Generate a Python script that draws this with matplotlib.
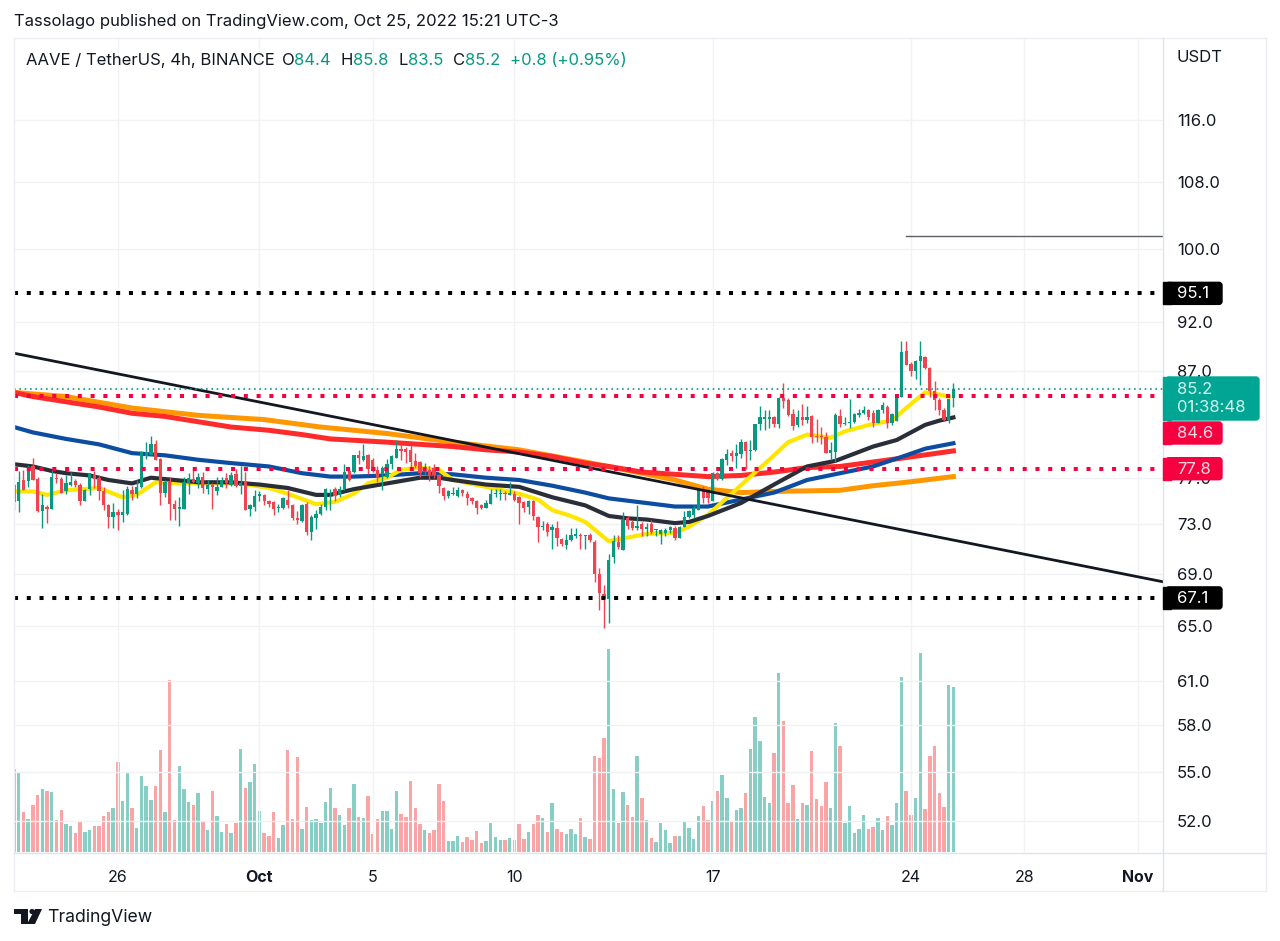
import matplotlib
matplotlib.use("Agg")
import matplotlib.pyplot as plt
from matplotlib.patches import FancyBboxPatch, Polygon, Rectangle, Circle

plt.rcParams["font.family"] = ["Inter", "DejaVu Sans"]

# ── data ──────────────────────────────────────────────────────────────────────
opens = [
    76.4,75.0,76.8,76.7,78.0,76.9,74.1,74.5,74.3,77.0, 76.9,75.8,76.4,76.7,76.4,75.0,76.0,77.2,77.0,75.8,
    74.6,73.6,74.0,73.8,73.9,75.9,75.6,76.2,78.9,79.0, 80.0,78.7,75.7,76.7,74.7,74.3,74.3,76.5,76.9,76.5,
    77.1,76.0,76.4,75.8,76.2,77.0,76.4,77.3,76.3,76.7, 74.3,74.5,75.4,75.5,75.0,74.9,74.4,74.4,75.1,74.6,
    73.5,73.3,74.7,72.4,73.5,73.9,74.5,75.3,76.0,75.5, 76.0,77.6,77.5,79.0,78.6,79.0,78.6,77.7,77.3,77.1,
    78.2,78.8,79.6,79.6,79.5,78.5,78.4,77.5,77.7,77.9, 77.2,76.1,75.4,75.6,75.4,75.9,75.6,75.2,75.0,74.6,
    74.4,74.7,75.6,75.6,75.7,75.5,75.6,75.3,74.9,74.5, 75.0,73.6,72.8,73.0,72.5,72.7,71.8,71.3,71.7,72.0,
    72.1,72.0,72.1,71.5,69.0,67.4,67.0,70.3,71.5,70.9, 73.5,73.2,72.7,73.0,72.6,73.0,72.5,72.2,72.3,72.5,
    72.7,71.9,72.8,73.6,73.8,74.2,75.9,75.9,75.0,77.4, 76.9,78.6,79.2,78.9,79.1,80.2,79.4,79.5,81.9,82.4,
    82.4,82.5,81.9,84.4,84.2,82.8,81.8,82.5,82.3,82.6, 80.8,80.8,80.7,79.2,79.3,82.6,81.9,82.0,82.1,82.7,
    82.9,83.2,82.9,82.0,83.2,83.5,82.0,82.2,84.5,89.0, 87.7,87.0,88.0,88.4,87.3,85.0,84.2,83.2,82.3,84.4,
]
highs = [
    76.5,77.6,77.7,78.1,78.8,77.1,75.6,74.6,77.7,77.4, 77.1,77.2,77.5,76.9,76.5,76.0,77.4,77.6,77.2,76.2,
    74.7,74.8,74.3,75.9,76.3,76.3,76.8,79.4,80.2,80.8, 80.4,78.8,76.8,77.1,75.1,75.3,77.1,77.4,77.7,77.4,
    77.5,76.8,76.5,77.1,77.1,77.4,77.5,77.8,78.0,77.5, 74.7,75.9,75.8,75.6,75.1,75.0,74.7,75.3,75.9,74.7,
    74.1,74.7,74.9,73.8,74.2,74.7,76.1,76.0,76.2,76.3, 78.2,77.9,79.0,79.5,80.0,79.1,78.8,78.0,78.0,78.7,
    79.0,80.4,80.0,79.8,79.9,79.2,78.5,78.3,78.0,78.2, 77.3,76.2,75.9,76.2,76.2,76.0,75.8,75.3,75.1,74.7,
    75.1,76.0,76.0,76.0,75.8,76.6,75.8,75.4,75.0,75.1, 75.1,73.7,73.3,73.2,73.0,73.3,71.9,72.2,72.7,72.7,
    72.3,72.1,72.3,71.7,69.4,68.1,70.6,72.1,72.1,74.0, 73.7,73.4,74.6,73.2,73.1,73.4,72.6,72.6,72.7,72.9,
    72.9,72.9,74.1,74.2,74.6,75.9,76.3,76.0,77.5,77.5, 78.8,79.6,79.5,80.0,80.5,80.3,80.4,81.9,83.6,83.2,
    83.2,82.6,84.5,85.8,84.4,83.3,83.2,83.8,83.6,82.7, 82.4,81.6,81.1,80.2,82.9,83.3,82.5,84.3,82.9,83.3,
    83.6,83.3,83.2,83.3,84.0,83.7,82.9,84.7,90.0,90.0, 87.9,88.1,90.0,88.5,87.4,86.0,84.4,83.4,84.3,85.8,
]
lows = [
    74.2,74.0,75.9,76.2,76.8,74.0,72.7,73.1,74.3,76.5, 75.7,75.6,76.3,76.2,74.6,75.0,75.5,76.1,75.1,74.2,
    72.7,72.7,72.5,73.2,73.8,75.1,75.2,76.1,78.7,79.0, 78.6,74.6,75.3,73.4,73.4,72.9,74.3,75.6,76.5,76.1,
    75.7,75.6,74.3,75.5,76.2,76.1,76.3,76.2,75.6,74.2, 73.7,74.1,75.0,74.6,74.5,73.8,74.0,74.3,74.4,73.4,
    73.0,73.2,72.1,71.7,72.6,73.8,74.2,74.2,75.0,75.3, 75.9,76.7,77.4,78.2,78.5,77.3,77.5,76.6,75.9,77.0,
    77.8,78.8,78.6,78.3,77.9,77.9,77.1,77.2,76.7,77.0, 75.7,75.1,75.2,75.5,75.3,75.4,74.6,74.7,73.9,74.3,
    74.4,74.7,75.3,75.1,75.1,75.5,75.0,73.0,74.0,73.9, 73.4,71.5,72.5,72.0,71.0,71.2,71.2,71.0,71.6,71.9,
    71.0,71.0,71.5,68.3,66.2,64.8,65.2,69.8,71.0,70.9, 72.6,72.5,72.5,72.0,72.0,72.2,72.0,71.4,72.0,72.3,
    71.7,71.9,72.8,73.5,73.5,74.2,74.8,74.8,75.0,76.8, 76.8,78.1,78.5,77.9,78.8,77.8,78.6,79.4,81.3,81.3,
    81.5,81.6,81.5,83.4,82.6,81.3,81.6,81.8,82.0,80.1, 80.2,80.0,79.2,78.6,78.4,81.6,81.8,81.5,82.0,82.5,
    82.8,82.3,81.6,82.0,82.9,81.5,81.8,82.2,84.5,87.6, 86.5,86.2,85.6,87.2,84.5,83.2,82.7,82.2,82.0,83.5,
]
closes = [
    74.9,76.6,75.9,77.8,76.8,74.1,74.6,74.3,77.1,76.9, 75.7,76.5,76.6,76.4,75.0,75.9,77.4,76.9,75.8,74.6,
    73.6,74.0,73.8,74.0,76.0,75.6,76.2,79.3,79.3,80.0, 78.6,75.7,76.6,74.7,74.3,74.5,76.6,77.0,76.6,77.1,
    76.1,76.4,76.2,76.2,76.8,76.5,77.2,76.3,76.5,74.2, 74.6,75.4,75.6,75.0,74.7,74.3,74.5,75.2,74.6,73.5,
    73.4,74.6,72.4,73.6,73.9,74.5,76.0,75.4,75.4,76.0, 77.5,76.8,79.0,78.8,78.9,77.8,77.6,77.0,77.9,78.2,
    78.9,79.6,79.4,79.3,78.4,78.0,77.4,77.8,77.2,77.2, 76.3,75.4,75.8,75.7,75.9,75.7,75.2,75.0,74.4,74.4,
    74.8,75.6,75.7,75.7,75.6,75.7,75.1,74.8,74.4,75.0, 73.7,72.8,72.9,72.4,72.8,71.9,71.4,71.7,72.1,72.2,
    72.0,72.1,71.7,69.0,67.5,67.0,70.1,71.6,71.1,73.4, 72.9,72.7,72.9,72.6,72.8,72.4,72.6,72.5,72.5,72.8,
    71.9,72.8,73.6,74.1,74.4,75.9,75.2,75.2,77.4,76.9, 78.7,79.1,78.9,79.2,80.2,79.4,79.5,81.9,82.5,82.5,
    82.5,81.9,84.4,84.1,82.7,81.7,82.5,82.3,82.5,80.7, 80.7,80.7,79.2,79.5,82.7,81.9,82.0,82.1,82.8,82.9,
    83.2,82.5,82.0,83.2,83.7,82.0,82.8,84.7,88.9,87.6, 87.0,88.0,88.5,87.3,85.0,84.2,83.2,82.3,84.3,85.2,
]
# volume has no scale on the chart, these are relative bar heights
volumes = [
    83,80,40,33,47,57,63,61,60,32, 42,28,26,19,30,20,22,26,26,36,
    40,44,90,51,80,44,24,76,66,52, 66,102,40,172,32,86,63,50,47,59,
    30,22,61,36,20,28,19,29,103,64, 70,88,41,19,16,40,14,27,102,33,
    95,23,45,32,33,29,50,64,44,37, 27,44,68,35,34,56,18,33,41,41,
    23,61,38,35,71,44,28,22,19,22, 68,51,11,11,16,10,15,12,21,9,
    11,29,15,12,12,14,12,28,13,20, 28,37,34,20,49,23,20,18,23,18,
    34,15,13,96,94,114,203,63,29,60, 47,35,96,54,32,14,10,29,22,9,
    16,16,30,24,13,36,46,32,51,61, 77,54,30,42,44,59,103,135,111,55,
    49,99,179,131,49,67,33,49,47,101, 53,46,70,44,129,106,29,46,19,23,
    37,23,25,34,22,36,27,49,175,61, 37,54,199,43,96,106,59,45,167,165,
]

orange_idx = [0,11,25,39,53,65,79,93,107,121,133,140,147,154,161,175,182,189,199]
orange_val = [84.9,84.5,83.4,82.7,82.3,81.6,81.0,80.2,79.5,78.4,77.4,76.8,76.0,75.7,75.8,75.9,76.3,76.6,77.1]

red_idx = [0,4,11,18,25,32,39,46,54,61,67,79,93,100,107,114,121,126,133,140,147,154,161,168,175,182,189,199]
red_val = [84.9,84.5,84.0,83.5,82.9,82.6,82.1,81.6,81.3,80.9,80.5,80.2,79.8,79.5,79.3,78.9,78.3,78.0,77.5,77.3,77.1,77.2,77.5,77.9,78.0,78.4,78.8,79.4]

blue_idx = [0,4,11,18,25,32,39,46,54,61,67,72,79,86,93,100,107,114,121,126,134,140,147,154,161,168,175,182,189,193,199]
blue_val = [81.6,81.1,80.5,80.0,79.2,79.0,78.6,78.3,78.0,77.4,77.1,77.1,77.2,77.4,77.3,77.0,76.8,76.3,75.7,75.2,74.8,74.5,74.5,75.1,75.7,76.8,77.4,78.0,79.0,79.6,80.1]

dark_idx = [0,4,8,11,16,20,25,29,34,39,46,52,58,64,67,72,79,86,90,93,100,107,114,121,126,130,134,140,143,147,154,161,168,174,182,187,193,196,199]
dark_val = [78.2,78.0,77.6,77.4,77.2,76.8,76.5,77.0,76.8,76.6,76.6,76.4,76.1,75.5,75.5,76.0,76.5,77.0,77.0,76.8,76.4,76.2,75.3,74.6,73.7,73.5,73.4,73.1,73.2,73.7,74.8,76.4,78.0,78.5,79.8,80.4,81.8,82.2,82.5]

yellow_idx = [0,4,7,11,18,23,26,30,35,41,48,54,58,64,68,72,75,79,82,86,90,93,100,107,111,114,118,121,126,130,134,140,143,147,152,156,161,164,168,173,176,182,186,189,193,196,198]
yellow_val = [75.8,75.8,75.5,75.9,76.1,75.3,75.5,76.6,76.5,76.5,76.5,76.1,75.6,74.7,74.9,75.6,76.5,77.0,77.7,77.9,77.7,76.8,76.2,75.6,75.1,74.2,73.7,73.2,71.6,71.9,72.2,72.3,72.8,73.8,75.6,77.1,79.0,80.2,80.9,80.6,81.2,81.9,82.2,83.4,84.9,84.7,84.5]

trend_idx = [0, 243.4]
trend_val = [88.8, 68.35]

ray_idx = [189, 243.4]
ray_val = [101.6, 101.6]

level_black = [95.1, 67.1]
level_red = [84.6, 77.8]
last_price = 85.2

price_ticks = [116.0, 108.0, 100.0, 92.0, 87.0, 77.0, 73.0, 69.0, 65.0, 61.0, 58.0, 55.0, 52.0]
date_pos = [22, 52, 76, 106, 148, 190, 214, 238]
date_labels = ["26", "Oct", "5", "10", "17", "24", "28", "Nov"]

GREEN = "#089981"
RED = "#f0444e"
CRIMSON = "#f7003f"
GRID = "#f1f2f4"
INK = "#131722"

# ── figure ────────────────────────────────────────────────────────────────────
W, H = 1280, 941
L, R, T, B = 14, 1163, 38, 852
fig = plt.figure(figsize=(W / 100, H / 100), dpi=100, facecolor="white")
rect = [L / W, 1 - B / H, (R - L) / W, (B - T) / H]

vol_ax = fig.add_axes(rect, zorder=1)
ax = fig.add_axes(rect, zorder=2, sharex=vol_ax)
ax.patch.set_visible(False)

x = list(range(len(closes)))
up = [c >= o for o, c in zip(opens, closes)]

vol_ax.bar(x, volumes, width=0.72, color=["#10a08c" if u else "#f44c4c" for u in up], alpha=0.5, linewidth=0)
vol_ax.set_ylim(0, B - T)
vol_ax.set_yticks([])
vol_ax.tick_params(axis="x", length=0, labelbottom=False)
for s in vol_ax.spines.values():
    s.set_visible(False)

ax.set_yscale("log")
ax.set_xlim(0, 243.4)
ax.set_ylim(50.16, 127.4)
ax.yaxis.tick_right()
ax.set_yticks(price_ticks)
ax.set_yticklabels([f"{t:.1f}" for t in price_ticks], fontsize=12, color=INK)
ax.minorticks_off()
ax.tick_params(axis="y", length=0, pad=10)
ax.set_xticks(date_pos)
ax.set_xticklabels(date_labels, fontsize=11.5, color=INK)
ax.get_xticklabels()[1].set_fontweight("bold")
ax.get_xticklabels()[7].set_fontweight("bold")
ax.tick_params(axis="x", length=0, pad=13)
ax.grid(True, color=GRID, linewidth=1, zorder=0)
ax.set_axisbelow(True)
for s in ax.spines.values():
    s.set_visible(False)

# moving averages, candles sit on top of them
ax.plot(orange_idx, orange_val, color="#ff9800", lw=3.6, zorder=2)
ax.plot(red_idx, red_val, color="#ff2a2a", lw=3.6, zorder=2.1)
ax.plot(blue_idx, blue_val, color="#0c4da2", lw=3.0, zorder=2.2)
ax.plot(yellow_idx, yellow_val, color="#ffe600", lw=3.0, zorder=2.3)
ax.plot(dark_idx, dark_val, color="#2a2e39", lw=3.0, zorder=2.4)

colors = [GREEN if u else RED for u in up]
ax.vlines(x, lows, highs, colors=colors, linewidth=1.0, zorder=3)
ax.bar(x, [abs(c - o) for o, c in zip(opens, closes)],
       bottom=[min(o, c) for o, c in zip(opens, closes)],
       width=0.7, color=colors, linewidth=0, zorder=3.1)

ax.plot(trend_idx, trend_val, color=INK, lw=2.0, zorder=4)
ax.plot(ray_idx, ray_val, color="#5d606b", lw=1.0, zorder=4)
for lvl in level_black:
    ax.axhline(lvl, color="black", lw=2.9, linestyle=(0, (1, 2.17)), zorder=5)
for lvl in level_red:
    ax.axhline(lvl, color=CRIMSON, lw=2.9, linestyle=(0, (1, 2.17)), zorder=5)
ax.axhline(last_price, color=GREEN, lw=1.2, linestyle=(0, (1, 2.2)), zorder=5)

# ── page furniture in pixel coordinates ───────────────────────────────────────
ov = fig.add_axes([0, 0, 1, 1], zorder=5)
ov.set_xlim(0, W)
ov.set_ylim(H, 0)
ov.axis("off")
ov.patch.set_visible(False)

FRAME = "#eceef3"
ov.plot([L, 1266, 1266, L, L], [T, T, 891, 891, T], color=FRAME, lw=1)
ov.plot([R, R], [T, 891], color="#e0e3eb", lw=1)
ov.plot([L, 1266], [B + 1, B + 1], color="#e0e3eb", lw=1)

ov.text(14, 21, "Tassolago published on TradingView.com, Oct 25, 2022 15:21 UTC-3",
        fontsize=12, color=INK, va="center")
ov.text(26, 60, "AAVE / TetherUS, 4h, BINANCE", fontsize=12, color=INK, va="center")
for px, s, c in [(282, "O", INK), (294, "84.4", GREEN), (341, "H", INK), (353, "85.8", GREEN),
                 (399, "L", INK), (408, "83.5", GREEN), (453, "C", INK), (465, "85.2", GREEN),
                 (510, "+0.8 (+0.95%)", GREEN)]:
    ov.text(px, 60, s, fontsize=12, color=c, va="center")
ov.text(1177, 57, "USDT", fontsize=12, color=INK, va="center")


def price_y(p):
    # pixel row of a price on the main axes
    return H - ax.transData.transform((0, p))[1]


def price_tag(y, text, color, fg="white"):
    ov.add_patch(FancyBboxPatch((R + 3, y - 11), 56, 22, boxstyle="round,pad=0,rounding_size=3",
                                fc=color, ec=color, lw=1, zorder=6))
    ov.add_patch(Rectangle((R, y - 11), 8, 22, fc=color, ec=color, lw=1, zorder=6))
    ov.text(R + 14, y + 0.5, text, fontsize=12, color=fg, va="center", zorder=7)


ov.add_patch(FancyBboxPatch((R + 3, 377), 93, 43, boxstyle="round,pad=0,rounding_size=3",
                            fc="#00a693", ec="#00a693", lw=1, zorder=6))
ov.add_patch(Rectangle((R, 377), 8, 43, fc="#00a693", ec="#00a693", lw=1, zorder=6))
ov.text(R + 14, 389, "85.2", fontsize=12, color="#d5f5ef", va="center", zorder=7)
ov.text(R + 14, 408, "01:38:48", fontsize=12, color="#d5f5ef", va="center", zorder=7)

price_tag(price_y(level_black[0]), "95.1", "black")
price_tag(price_y(level_black[1]), "67.1", "black")
# the 84.6 tag is pushed below the last-price tag, as on the original
price_tag(433, "84.6", CRIMSON, "#ffd9e2")
price_tag(price_y(level_red[1]), "77.8", CRIMSON, "#ffd9e2")

# TradingView mark and name
ov.add_patch(Polygon([(14, 909), (28, 909), (28, 924), (21, 924), (21, 914), (14, 914)], fc=INK, ec="none"))
ov.add_patch(Circle((32, 911.5), 2.6, fc=INK, ec="none"))
ov.add_patch(Polygon([(35, 909), (42, 909), (35, 924), (27, 924)], fc=INK, ec="none"))
ov.text(47, 917, "TradingView", fontsize=12.7, color=INK, va="center")

fig.savefig("out.png", dpi=100, facecolor="white")
